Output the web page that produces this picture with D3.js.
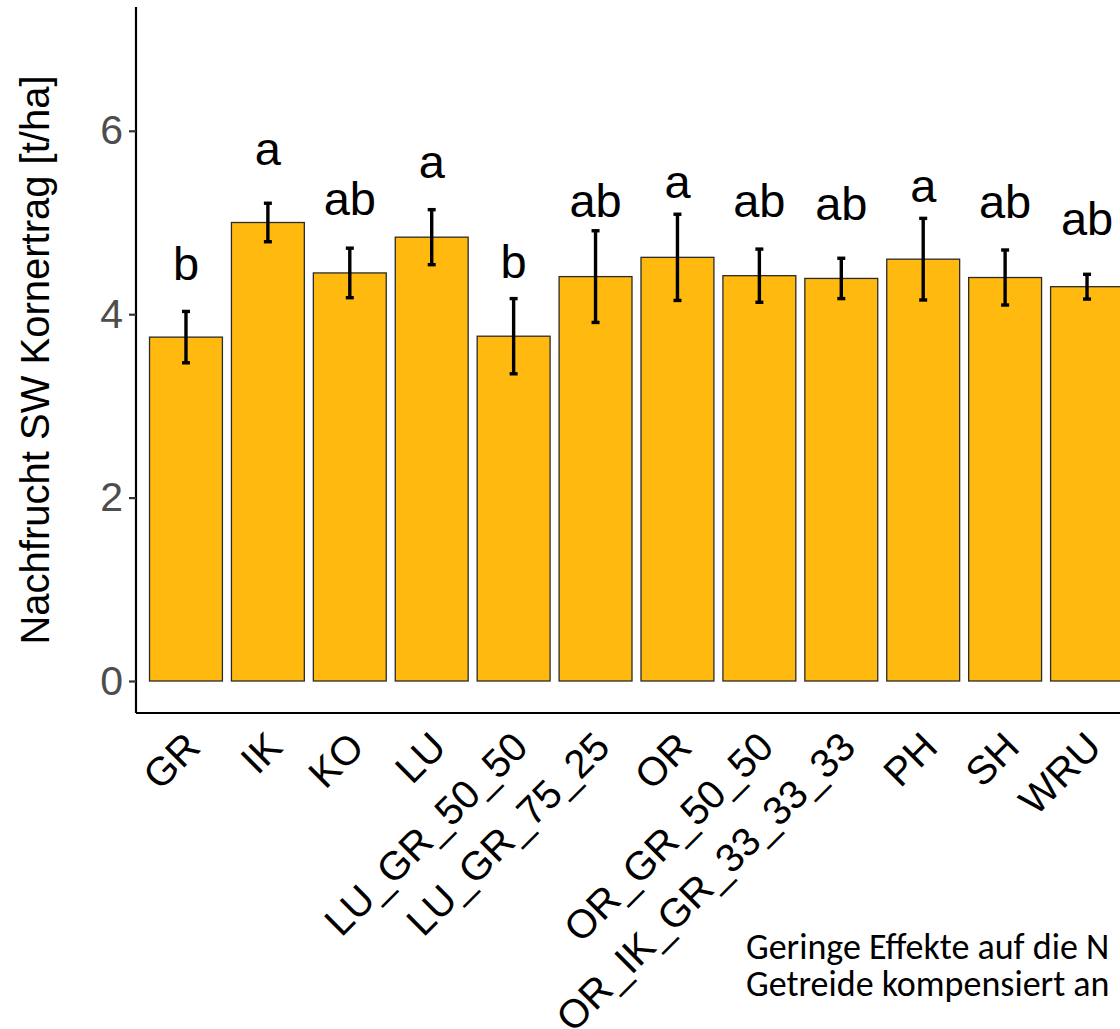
<!DOCTYPE html>
<html>
<head>
<meta charset="utf-8">
<script src="https://cdn.jsdelivr.net/npm/d3@7"></script>
<style>
  html, body { margin: 0; padding: 0; background: #ffffff; }
  svg { display: block; }
</style>
</head>
<body>
<script>
// Catch-crop treatments and the following winter wheat grain yield (t/ha)
const categories = ["GR", "IK", "KO", "LU", "LU_GR_50_50", "LU_GR_75_25", "OR",
  "OR_GR_50_50", "OR_IK_GR_33_33_33", "PH", "SH", "WRU"];
const yieldMean = [3.75, 5.00, 4.45, 4.84, 3.76, 4.41, 4.62, 4.42, 4.39, 4.60, 4.40, 4.30];
const yieldErr  = [0.28, 0.21, 0.27, 0.30, 0.41, 0.50, 0.47, 0.29, 0.22, 0.445, 0.30, 0.135];
// Significance groups and the height (t/ha) at which each letter sits
const groupLetters = ["b", "a", "ab", "a", "b", "ab", "a", "ab", "ab", "a", "ab", "ab"];
const letterY = [4.37, 5.63, 5.08, 5.49, 4.40, 5.06, 5.27, 5.06, 5.03, 5.22, 5.05, 4.86];
const yTicks = [0, 2, 4, 6];
const yTitle = "Nachfrucht SW Kornertrag [t/ha]";
const noteLines = ["Geringe Effekte auf die N", "Getreide kompensiert an"];

const W = 1120, H = 1029;
const svg = d3.select("body").append("svg")
  .attr("width", W).attr("height", H)
  .style("font-family", "'Liberation Sans', Arial, sans-serif");

svg.append("rect").attr("width", W).attr("height", H).attr("fill", "#ffffff");

const panel = { left: 136, top: 7, bottom: 713 };

const x = d3.scaleBand()
  .domain(categories)
  .range([panel.left, panel.left + 1001])
  .paddingInner(0.11)
  .paddingOuter(0.165);

const y = d3.scaleLinear()
  .domain([-0.349, 7.35])
  .range([panel.bottom, panel.top]);

const rows = categories.map((c, i) => ({
  cat: c, mean: yieldMean[i], err: yieldErr[i], letter: groupLetters[i], ly: letterY[i]
}));

// bars
svg.append("g").selectAll("rect").data(rows).join("rect")
  .attr("x", d => x(d.cat))
  .attr("width", x.bandwidth())
  .attr("y", d => y(d.mean))
  .attr("height", d => y(0) - y(d.mean))
  .attr("fill", "#FFB90F")
  .attr("stroke", "#2b2b2b")
  .attr("stroke-width", 1.3);

// error bars
const eb = svg.append("g").attr("stroke", "#000").attr("fill", "none");
const capW = 4;
rows.forEach(d => {
  const cx = x(d.cat) + x.bandwidth() / 2;
  eb.append("line")
    .attr("x1", cx).attr("x2", cx)
    .attr("y1", y(d.mean + d.err)).attr("y2", y(d.mean - d.err))
    .attr("stroke-width", 3.4);
  [d.mean + d.err, d.mean - d.err].forEach(v => {
    eb.append("line")
      .attr("x1", cx - capW).attr("x2", cx + capW)
      .attr("y1", y(v)).attr("y2", y(v))
      .attr("stroke-width", 3.4);
  });
});

// significance letters
svg.append("g").selectAll("text").data(rows).join("text")
  .attr("x", d => x(d.cat) + x.bandwidth() / 2)
  .attr("y", d => y(d.ly))
  .attr("text-anchor", "middle")
  .attr("font-size", 47)
  .attr("fill", "#000")
  .text(d => d.letter);

// y axis
const yAxis = svg.append("g")
  .attr("transform", `translate(${panel.left},0)`)
  .call(d3.axisLeft(y).tickValues(yTicks).tickFormat(d3.format("d")).tickSize(7).tickPadding(6));
yAxis.select(".domain").attr("stroke", "#000").attr("stroke-width", 2.2)
  .attr("d", `M0,${panel.top}V${panel.bottom}`);
yAxis.selectAll(".tick line").attr("stroke", "#333").attr("stroke-width", 2.2);
yAxis.selectAll(".tick text")
  .attr("font-size", 41)
  .attr("fill", "#4d4d4d")
  .attr("font-family", "'Liberation Sans', Arial, sans-serif");

// x axis (no tick marks, rotated labels)
const xAxis = svg.append("g")
  .attr("transform", `translate(0,${panel.bottom})`)
  .call(d3.axisBottom(x).tickSize(0).tickPadding(0));
xAxis.select(".domain").attr("stroke", "#000").attr("stroke-width", 2.2)
  .attr("d", `M${panel.left},0H${W + 10}`);
xAxis.selectAll(".tick text")
  .attr("font-size", 40)
  .attr("fill", "#000")
  .attr("font-family", "'Liberation Sans', Arial, sans-serif")
  .attr("text-anchor", "end")
  .attr("x", 0).attr("y", 0).attr("dy", "0.72em")
  .attr("transform", "translate(-4,16) rotate(-45)");

// y axis title
svg.append("text")
  .attr("transform", `translate(49,${(panel.top + panel.bottom) / 2}) rotate(-90)`)
  .attr("text-anchor", "middle")
  .attr("font-size", 40)
  .attr("fill", "#000")
  .text(yTitle);

// side note
svg.append("g").selectAll("text").data(noteLines).join("text")
  .attr("x", 746)
  .attr("y", (d, i) => 959 + i * 37)
  .attr("font-family", "Carlito, Lato, 'Open Sans', sans-serif")
  .attr("font-size", 36)
  .attr("fill", "#000")
  .text(d => d);
</script>
</body>
</html>
